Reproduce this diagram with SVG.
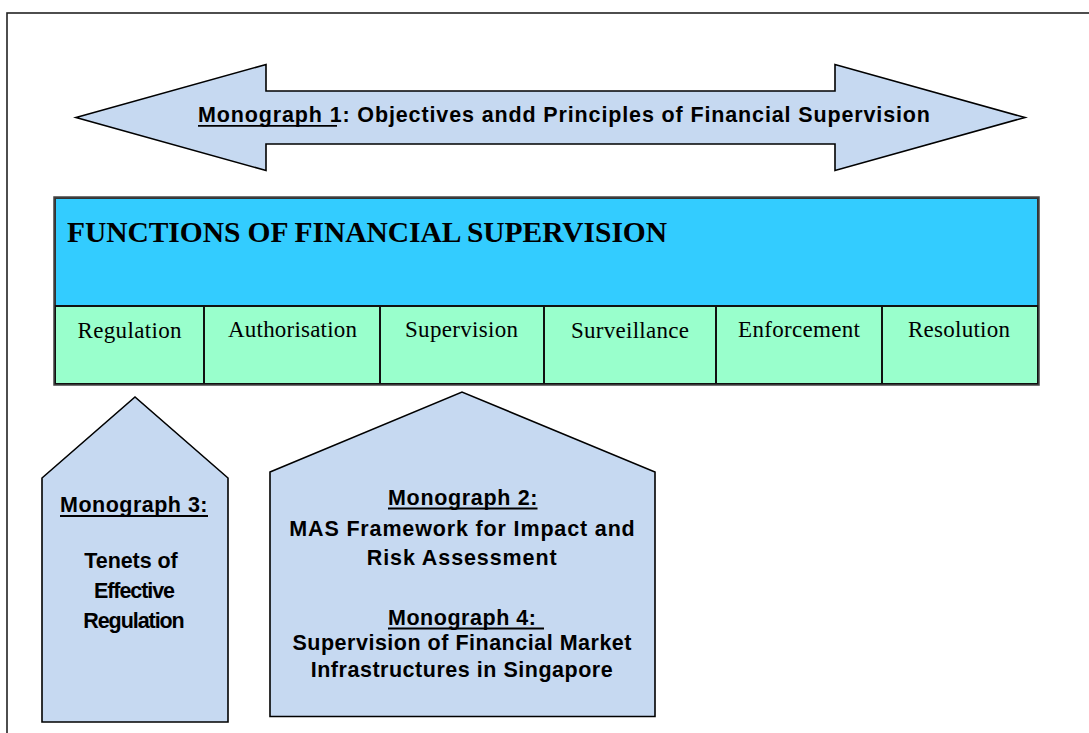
<svg xmlns="http://www.w3.org/2000/svg" width="1089" height="733" viewBox="0 0 1089 733">
<style>
.shape{fill:#C6D9F1;stroke:#000;stroke-width:1.6;stroke-linejoin:miter}
.sans{font-family:"Liberation Sans",Arial,sans-serif;font-weight:bold;fill:#000}
.serif{font-family:"Liberation Serif","Times New Roman",serif;fill:#000}
.cell{fill:#99FFCC;stroke:#111;stroke-width:2}
.ul{stroke:#000;stroke-width:1.8}
</style>
<rect width="1089" height="733" fill="#fff"/>
<rect id="frame" x="7" y="13" width="1110" height="760" fill="none" stroke="#222" stroke-width="1.6"/>

<g id="monograph1">
<polygon class="shape" points="76,117.5 266,64.5 266,91 835,91 835,64.5 1025,117.5 835,170.5 835,144 266,144 266,170.5"/>
<text class="sans" x="198" y="121.5" font-size="21.5" textLength="732" lengthAdjust="spacing">Monograph 1: Objectives andd Principles of Financial Supervision</text>
<line class="ul" x1="198" y1="125.8" x2="337" y2="125.8"/>
</g>

<g id="functions">
<rect x="55" y="198" width="983" height="108" fill="#33CCFF" stroke="#333" stroke-width="2"/>
<text class="serif" x="67" y="242" font-size="29.5" font-weight="bold" textLength="600" lengthAdjust="spacing">FUNCTIONS OF FINANCIAL SUPERVISION</text>
</g>

<g id="cell-regulation">
<rect class="cell" x="55" y="306" width="149" height="78"/>
<text class="serif" x="129.5" y="338" font-size="23" text-anchor="middle" textLength="104" lengthAdjust="spacing">Regulation</text>
</g>
<g id="cell-authorisation">
<rect class="cell" x="204" y="306" width="176" height="78"/>
<text class="serif" x="292.5" y="337" font-size="23" text-anchor="middle" textLength="129" lengthAdjust="spacing">Authorisation</text>
</g>
<g id="cell-supervision">
<rect class="cell" x="380" y="306" width="164" height="78"/>
<text class="serif" x="461.5" y="337" font-size="23" text-anchor="middle" textLength="113" lengthAdjust="spacing">Supervision</text>
</g>
<g id="cell-surveillance">
<rect class="cell" x="544" y="306" width="172" height="78"/>
<text class="serif" x="630" y="338" font-size="23" text-anchor="middle" textLength="118" lengthAdjust="spacing">Surveillance</text>
</g>
<g id="cell-enforcement">
<rect class="cell" x="716" y="306" width="166" height="78"/>
<text class="serif" x="799" y="337" font-size="23" text-anchor="middle" textLength="122" lengthAdjust="spacing">Enforcement</text>
</g>
<g id="cell-resolution">
<rect class="cell" x="882" y="306" width="156" height="78"/>
<text class="serif" x="959" y="337" font-size="23" text-anchor="middle" textLength="102" lengthAdjust="spacing">Resolution</text>
</g>
<rect x="54" y="197" width="985" height="188" fill="none" stroke="#444" stroke-width="1.5"/>

<g id="monograph3">
<polygon class="shape" points="42,478 135,397 228,478 228,722 42,722"/>
<text class="sans" x="60" y="511.5" font-size="21.5" textLength="147.5" lengthAdjust="spacing">Monograph 3:</text>
<line class="ul" x1="60" y1="516" x2="208" y2="516"/>
<text class="sans" x="131" y="568" font-size="21.5" text-anchor="middle" textLength="93.5" lengthAdjust="spacing">Tenets of</text>
<text class="sans" x="134.5" y="598" font-size="21.5" text-anchor="middle" textLength="81" lengthAdjust="spacing">Effective</text>
<text class="sans" x="134" y="628" font-size="21.5" text-anchor="middle" textLength="101.5" lengthAdjust="spacing">Regulation</text>
</g>

<g id="monograph2-4">
<polygon class="shape" points="270,472 462,392 655,472 655,716.5 270,716.5"/>
<text class="sans" x="388" y="505" font-size="21.5" textLength="149.5" lengthAdjust="spacing">Monograph 2:</text>
<line class="ul" x1="388" y1="508.5" x2="537.5" y2="508.5"/>
<text class="sans" x="462" y="536" font-size="21.5" text-anchor="middle" textLength="345.5" lengthAdjust="spacing">MAS Framework for Impact and</text>
<text class="sans" x="461.7" y="565" font-size="21.5" text-anchor="middle" textLength="190" lengthAdjust="spacing">Risk Assessment</text>
<text class="sans" x="388" y="625" font-size="21.5" textLength="148" lengthAdjust="spacing">Monograph 4:</text>
<line class="ul" x1="388" y1="628.5" x2="544" y2="628.5"/>
<text class="sans" x="462" y="650" font-size="21.5" text-anchor="middle" textLength="339" lengthAdjust="spacing">Supervision of Financial Market</text>
<text class="sans" x="461.7" y="676.5" font-size="21.5" text-anchor="middle" textLength="302" lengthAdjust="spacing">Infrastructures in Singapore</text>
</g>
</svg>
